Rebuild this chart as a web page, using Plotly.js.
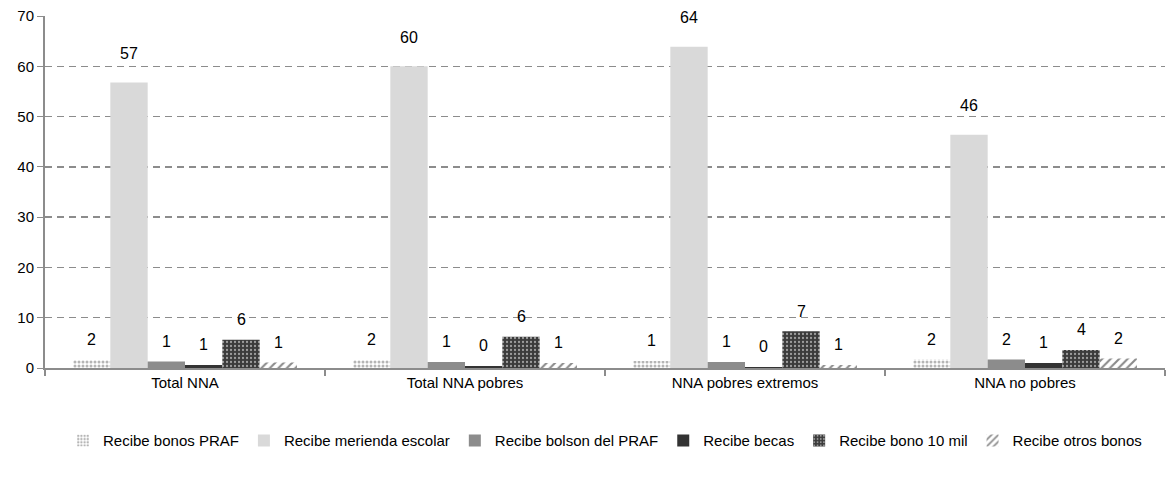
<!DOCTYPE html>
<html>
<head>
<meta charset="utf-8">
<script src="https://cdn.plot.ly/plotly-3.0.1.min.js"></script>
<style>html,body{margin:0;padding:0;background:#fff}#chart{width:1174px;height:480px}</style>
</head>
<body>
<div id="chart"></div>
<script>
const categories = ['Total NNA', 'Total NNA pobres', 'NNA pobres extremos', 'NNA no pobres'];
const seriesNames = ['Recibe bonos PRAF', 'Recibe merienda escolar', 'Recibe bolson del PRAF', 'Recibe becas', 'Recibe bono 10 mil', 'Recibe otros bonos'];
const bonosPRAF = [1.6, 1.6, 1.4, 1.7];
const meriendaEscolar = [56.8, 60.0, 63.9, 46.4];
const bolsonPRAF = [1.3, 1.2, 1.2, 1.7];
const becas = [0.6, 0.4, 0.2, 1.0];
const bono10mil = [5.6, 6.2, 7.3, 3.6];
const otrosBonos = [1.1, 1.0, 0.6, 1.9];
const yTicks = [0, 10, 20, 30, 40, 50, 60, 70];

const seriesValues = [bonosPRAF, meriendaEscolar, bolsonPRAF, becas, bono10mil, otrosBonos];

const styles = [
  {color: '#bfbfbf', pattern: {shape: '.', fgcolor: '#b5b5b5', bgcolor: '#ffffff', size: 4, solidity: 0.45, fillmode: 'replace'}},
  {color: '#d9d9d9'},
  {color: '#8c8c8c'},
  {color: '#333333'},
  {color: '#3b3b3b', pattern: {shape: '.', fgcolor: '#ffffff', size: 4, solidity: 0.25, fillmode: 'overlay'}},
  {color: '#8a8a8a', pattern: {shape: '/', fgcolor: '#8a8a8a', bgcolor: '#ffffff', size: 6, solidity: 0.35, fillmode: 'replace'}}
];

const W = 1174, H = 480;
const margin = {l: 45, r: 9, t: 16, b: 112, pad: 0, autoexpand: false};
const bargap = 0.2;
const FONT = 'Liberation Sans, Arial, sans-serif';

const traces = seriesValues.map((vals, i) => {
  const m = {color: styles[i].color, line: {width: 0}};
  if (styles[i].pattern) m.pattern = styles[i].pattern;
  return {
    type: 'bar', name: seriesNames[i], x: categories, y: vals,
    marker: m, hoverinfo: 'skip'
  };
});

const plotW = W - margin.l - margin.r;
const catW = plotW / categories.length;
const barW = catW * (1 - bargap) / seriesValues.length;
const annotations = [];
seriesValues.forEach((vals, i) => {
  vals.forEach((v, j) => {
    annotations.push({
      x: categories[j], y: v, xref: 'x', yref: 'y',
      text: String(Math.round(v)),
      showarrow: false, xanchor: 'center', yanchor: 'middle',
      xshift: (i - (seriesValues.length - 1) / 2) * barW,
      yshift: i === 1 ? 29 : 20,
      font: {family: FONT, size: 16, color: '#000'}
    });
  });
});

const layout = {
  width: W, height: H, margin: margin,
  paper_bgcolor: '#fff', plot_bgcolor: '#fff',
  font: {family: FONT, size: 15, color: '#000'},
  barmode: 'group', bargap: bargap, bargroupgap: 0,
  showlegend: true,
  legend: {orientation: 'h', x: 0.5, xanchor: 'center', y: -0.207, yanchor: 'middle',
           font: {family: FONT, size: 15, color: '#000'}, itemwidth: 30, tracegroupgap: 0, traceorder: 'normal'},
  xaxis: {
    type: 'category', showline: true, linecolor: '#8c8c8c', linewidth: 2,
    ticks: 'outside', tickson: 'boundaries', ticklen: 6, tickcolor: '#8c8c8c', tickwidth: 2,
    showgrid: false, tickfont: {family: FONT, size: 15, color: '#000'}, fixedrange: true
  },
  yaxis: {
    range: [0, 70], tickvals: yTicks, ticktext: yTicks.map(String),
    showline: true, linecolor: '#8c8c8c', linewidth: 2,
    ticks: 'outside', ticklen: 6, tickcolor: '#8c8c8c', tickwidth: 1,
    showgrid: true, gridcolor: '#8c8c8c', gridwidth: 1.3, griddash: '7px,5px',
    zeroline: false, tickfont: {family: FONT, size: 15, color: '#000'}, fixedrange: true
  },
  annotations: annotations
};

Plotly.newPlot('chart', traces, layout, {displayModeBar: false, staticPlot: true});
</script>
</body>
</html>
